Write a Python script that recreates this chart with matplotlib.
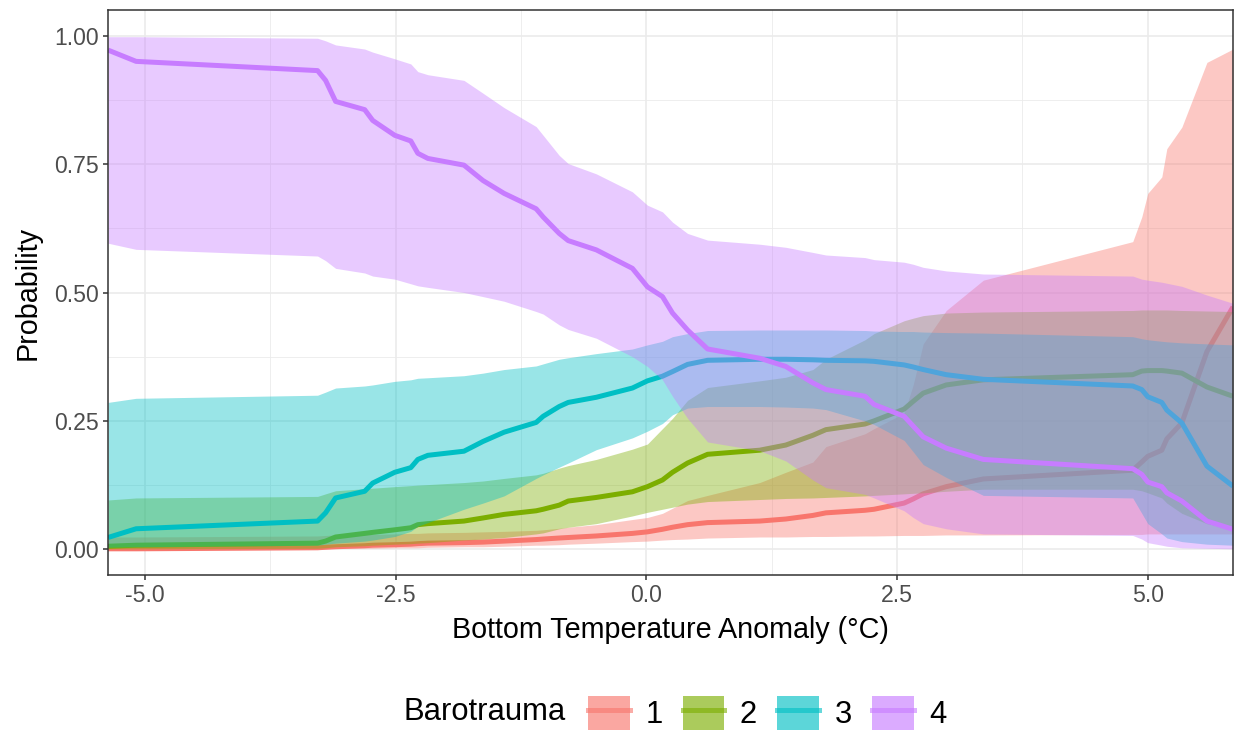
import matplotlib
matplotlib.use("Agg")
import matplotlib.pyplot as plt
import numpy as np
from matplotlib.patches import Patch
from matplotlib.lines import Line2D

plt.rcParams['font.family'] = ['Liberation Sans', 'DejaVu Sans']
plt.rcParams['axes.unicode_minus'] = False

# bottom temperature anomaly (deg C)
temp = [-5.37, -5.09, -3.28, -3.20, -3.10, -2.81, -2.73, -2.51, -2.35, -2.28, -2.18,
        -1.82, -1.63, -1.42, -1.10, -1.03, -0.87, -0.78, -0.50, -0.14, 0.01, 0.16,
        0.26, 0.41, 0.61, 1.13, 1.39, 1.66, 1.79, 2.18, 2.27, 2.57, 2.66, 2.76,
        2.99, 3.36, 4.85, 4.94, 5.00, 5.14, 5.19, 5.34, 5.59, 5.85]

# barotrauma 1
prob1 = [0.001, 0.001, 0.003, 0.004, 0.005, 0.007, 0.008, 0.009, 0.010, 0.011, 0.012,
         0.013, 0.014, 0.016, 0.019, 0.020, 0.022, 0.023, 0.026, 0.031, 0.034, 0.039,
         0.043, 0.048, 0.052, 0.055, 0.059, 0.066, 0.071, 0.076, 0.078, 0.090, 0.098, 0.108,
         0.122, 0.137, 0.154, 0.170, 0.181, 0.193, 0.215, 0.246, 0.385, 0.472]
lower1 = [0.000, 0.000, 0.001, 0.001, 0.002, 0.002, 0.002, 0.003, 0.003, 0.003, 0.004,
          0.005, 0.005, 0.006, 0.008, 0.008, 0.009, 0.010, 0.012, 0.015, 0.016, 0.018,
          0.019, 0.020, 0.022, 0.024, 0.024, 0.025, 0.025, 0.026, 0.026, 0.027, 0.027, 0.027,
          0.028, 0.028, 0.029, 0.029, 0.030, 0.030, 0.030, 0.030, 0.030, 0.030]
upper1 = [0.024, 0.024, 0.026, 0.027, 0.028, 0.029, 0.029, 0.030, 0.031, 0.031, 0.032,
          0.033, 0.034, 0.035, 0.037, 0.038, 0.041, 0.043, 0.048, 0.058, 0.062, 0.070,
          0.080, 0.095, 0.105, 0.130, 0.150, 0.170, 0.200, 0.225, 0.235, 0.265, 0.320, 0.400,
          0.465, 0.524, 0.599, 0.647, 0.693, 0.725, 0.780, 0.822, 0.948, 0.974]

# barotrauma 2
prob2 = [0.006, 0.008, 0.012, 0.016, 0.024, 0.031, 0.033, 0.038, 0.042, 0.048, 0.050,
         0.055, 0.061, 0.068, 0.075, 0.078, 0.086, 0.094, 0.101, 0.112, 0.122, 0.135,
         0.150, 0.168, 0.185, 0.193, 0.203, 0.222, 0.233, 0.244, 0.250, 0.273, 0.288, 0.304,
         0.320, 0.330, 0.340, 0.347, 0.348, 0.348, 0.347, 0.343, 0.316, 0.298]
lower2 = [0.001, 0.001, 0.002, 0.003, 0.005, 0.007, 0.008, 0.010, 0.011, 0.012, 0.013,
          0.018, 0.020, 0.023, 0.030, 0.032, 0.040, 0.043, 0.050, 0.065, 0.072, 0.078,
          0.082, 0.088, 0.093, 0.097, 0.099, 0.100, 0.101, 0.104, 0.105, 0.108, 0.109, 0.110,
          0.113, 0.117, 0.117, 0.114, 0.110, 0.100, 0.090, 0.070, 0.050, 0.040]
upper2 = [0.096, 0.100, 0.103, 0.108, 0.114, 0.118, 0.119, 0.122, 0.124, 0.125, 0.126,
          0.130, 0.133, 0.138, 0.145, 0.148, 0.158, 0.163, 0.175, 0.195, 0.205, 0.235,
          0.255, 0.290, 0.315, 0.328, 0.335, 0.350, 0.370, 0.408, 0.420, 0.445, 0.450, 0.455,
          0.460, 0.462, 0.465, 0.466, 0.466, 0.466, 0.466, 0.465, 0.464, 0.463]

# barotrauma 3
prob3 = [0.023, 0.040, 0.055, 0.071, 0.100, 0.113, 0.129, 0.150, 0.159, 0.175, 0.183,
         0.191, 0.210, 0.228, 0.247, 0.259, 0.278, 0.286, 0.296, 0.314, 0.328, 0.337,
         0.346, 0.360, 0.368, 0.370, 0.370, 0.369, 0.368, 0.367, 0.366, 0.359, 0.355, 0.350,
         0.340, 0.331, 0.318, 0.311, 0.297, 0.286, 0.271, 0.246, 0.162, 0.123]
lower3 = [0.004, 0.005, 0.008, 0.010, 0.012, 0.016, 0.018, 0.025, 0.035, 0.045, 0.052,
          0.078, 0.090, 0.104, 0.138, 0.145, 0.160, 0.168, 0.194, 0.217, 0.230, 0.245,
          0.262, 0.275, 0.278, 0.278, 0.277, 0.275, 0.272, 0.250, 0.243, 0.212, 0.190, 0.165,
          0.140, 0.105, 0.100, 0.070, 0.050, 0.030, 0.022, 0.015, 0.010, 0.008]
upper3 = [0.286, 0.294, 0.300, 0.306, 0.314, 0.318, 0.320, 0.327, 0.330, 0.333, 0.334,
          0.338, 0.343, 0.350, 0.357, 0.361, 0.370, 0.373, 0.381, 0.390, 0.398, 0.405,
          0.414, 0.420, 0.426, 0.427, 0.427, 0.427, 0.427, 0.426, 0.425, 0.424, 0.424, 0.423,
          0.422, 0.421, 0.414, 0.410, 0.408, 0.405, 0.404, 0.402, 0.400, 0.398]

# barotrauma 4
prob4 = [0.972, 0.950, 0.932, 0.913, 0.872, 0.856, 0.835, 0.806, 0.795, 0.771, 0.761,
         0.748, 0.718, 0.693, 0.663, 0.647, 0.615, 0.601, 0.583, 0.547, 0.511, 0.492,
         0.460, 0.427, 0.390, 0.372, 0.356, 0.324, 0.311, 0.298, 0.282, 0.259, 0.240, 0.219,
         0.197, 0.175, 0.157, 0.146, 0.131, 0.122, 0.110, 0.094, 0.055, 0.039]
lower4 = [0.596, 0.584, 0.571, 0.562, 0.547, 0.538, 0.532, 0.526, 0.517, 0.513, 0.510,
          0.500, 0.492, 0.483, 0.463, 0.458, 0.437, 0.428, 0.411, 0.375, 0.356, 0.330,
          0.298, 0.255, 0.209, 0.192, 0.172, 0.135, 0.120, 0.107, 0.100, 0.075, 0.062, 0.050,
          0.040, 0.030, 0.027, 0.020, 0.013, 0.008, 0.006, 0.003, 0.002, 0.001]
upper4 = [0.998, 0.998, 0.995, 0.990, 0.982, 0.974, 0.968, 0.955, 0.945, 0.930, 0.924,
          0.913, 0.888, 0.860, 0.823, 0.806, 0.767, 0.751, 0.731, 0.696, 0.670, 0.657,
          0.637, 0.615, 0.602, 0.594, 0.588, 0.578, 0.573, 0.568, 0.564, 0.559, 0.555, 0.549,
          0.542, 0.536, 0.532, 0.526, 0.524, 0.520, 0.518, 0.512, 0.495, 0.479]

levels = ['1', '2', '3', '4']
colors = ['#F8766D', '#7CAE00', '#00BFC4', '#C77CFF']

x_ticks = [-5.0, -2.5, 0.0, 2.5, 5.0]
x_labels = ['-5.0', '-2.5', '0.0', '2.5', '5.0']
y_ticks = [0.0, 0.25, 0.5, 0.75, 1.0]
y_labels = ['0.00', '0.25', '0.50', '0.75', '1.00']

series = [(prob1, lower1, upper1), (prob2, lower2, upper2),
          (prob3, lower3, upper3), (prob4, lower4, upper4)]

fig = plt.figure(figsize=(12.38, 7.32), dpi=100)
ax = fig.add_axes([108 / 1238, 1 - 575 / 732, 1125 / 1238, 565 / 732])

# ribbon then line for each group, like geom_smooth
for i, (m, lo, hi) in enumerate(series):
    ax.fill_between(temp, lo, hi, color=colors[i], alpha=0.4, linewidth=0, zorder=2 + 2 * i)
    ax.plot(temp, m, color=colors[i], lw=3.6, zorder=3 + 2 * i,
            solid_joinstyle='round', solid_capstyle='butt')

ax.set_xlim(min(temp), max(temp))
ax.set_ylim(-0.05, 1.05)
ax.set_xticks(x_ticks)
ax.set_xticklabels(x_labels)
ax.set_yticks(y_ticks)
ax.set_yticklabels(y_labels)
ax.set_xticks([-3.75, -1.25, 1.25, 3.75], minor=True)
ax.set_yticks([0.125, 0.375, 0.625, 0.875], minor=True)

ax.set_axisbelow(True)
ax.grid(which='major', color='#EBEBEB', lw=1.2, zorder=0)
ax.grid(which='minor', color='#EBEBEB', lw=0.6, zorder=0)
for s in ax.spines.values():
    s.set_color('#333333')
    s.set_linewidth(1.1)
    s.set_zorder(20)
ax.tick_params(which='major', length=3.6, width=1.1, color='#333333',
               labelcolor='#4D4D4D', labelsize=16.6, pad=3)
ax.tick_params(which='minor', length=0)

fig.text(670.5 / 1238, 1 - 630 / 732, 'Bottom Temperature Anomaly (°C)',
         ha='center', va='center', fontsize=20.7)
fig.text(28 / 1238, 1 - 292.5 / 732, 'Probability', rotation=90,
         ha='center', va='center', fontsize=20.7)

# legend at the bottom, title on the left
fig.text(403 / 1238, 1 - 712 / 732, 'Barotrauma', ha='left', va='center', fontsize=22.3)
handles = [(Patch(facecolor=c, alpha=0.64, edgecolor='none'),
            Line2D([], [], color=c, lw=3.6, alpha=0.6)) for c in colors]
fig.legend(handles, levels, loc='center left', bbox_to_anchor=(588 / 1238, 1 - 713 / 732),
           ncol=4, frameon=False, fontsize=22.3, handlelength=1.35, handleheight=1.3,
           handletextpad=0.5, columnspacing=0.65, borderpad=0, borderaxespad=0)

fig.savefig('out.png', dpi=100)
